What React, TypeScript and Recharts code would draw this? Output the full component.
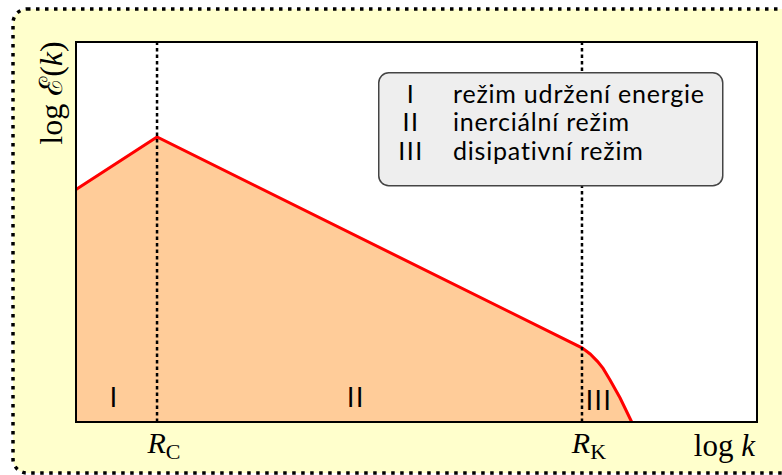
import React from 'react';
import {
  ComposedChart,
  Area,
  XAxis,
  YAxis,
  ReferenceLine,
  ReferenceArea,
  ReferenceDot,
  Legend,
  Label,
} from 'recharts';

// Energy spectrum sketch: log k on the horizontal axis, log E(k) on the vertical one.
const LOG_K = [0, 11.9, 74.3, 75.5, 76.6, 77.4, 78.4, 79.9, 81.6];
const LOG_E = [61.2, 75.0, 19.5, 17.9, 15.9, 14.1, 11.1, 6.3, 0];

// Characteristic scales marked on the k axis
const SCALE_TICKS = [11.9, 74.3];
const SCALE_TICK_LABELS = [
  ['R', 'C'],
  ['R', 'K'],
];

// Regimes of the cascade
const REGION_NUMERALS = ['I', 'II', 'III'];
const REGION_NAMES = ['režim udržení energie', 'inerciální režim', 'disipativní režim'];
const REGION_LABEL_K = [5.6, 41.1, 76.8];
const REGION_LABEL_E = [6.3, 6.3, 5.5];

const data = LOG_K.map((k, i) => ({ k, e: LOG_E[i] }));

const W = 782;
const H = 475;
const SERIF = '"Liberation Serif", "DejaVu Serif", serif';
const SANS = 'Lato, "Open Sans", sans-serif';

const ScaleTick = (props: any) => {
  const { x, y, index } = props;
  const [main, sub] = SCALE_TICK_LABELS[index] ?? ['', ''];
  return (
    <text x={x + 7} y={y + 23} textAnchor="middle" fontFamily={SERIF} fill="#000">
      <tspan fontSize={30} fontStyle="italic">
        {main}
      </tspan>
      <tspan fontSize={22} dy={6}>
        {sub}
      </tspan>
    </text>
  );
};

const RegimeLegend = () => (
  <svg width={346} height={115} style={{ display: 'block', overflow: 'visible' }}>
    <rect x={0.75} y={0.75} width={344} height={113} rx={10} ry={10} fill="#eeeeee" stroke="#444" strokeWidth={1.5} />
    {REGION_NUMERALS.map((n, i) => (
      <g key={n} fontFamily={SANS} fontSize={25} fill="#000">
        <text x={33} y={31 + i * 28.3} textAnchor="middle" letterSpacing={1.5}>
          {n}
        </text>
        <text x={75} y={31 + i * 28.3} letterSpacing={0.8}>
          {REGION_NAMES[i]}
        </text>
      </g>
    ))}
  </svg>
);

export default function App() {
  return (
    <div style={{ position: 'absolute', left: 0, top: 0, width: W, height: H, overflow: 'hidden' }}>
      <svg width={W} height={H} style={{ position: 'absolute', left: 0, top: 0 }}>
        <rect
          x={13}
          y={9}
          width={800}
          height={464}
          rx={14}
          ry={14}
          fill="#ffffcc"
          stroke="#000"
          strokeWidth={3.5}
          strokeDasharray="3.5 5.5"
        />
        <rect x={76} y={42} width={681} height={380} fill="#fff" />
      </svg>
      <div style={{ position: 'absolute', left: 0, top: 0 }}>
        <ComposedChart width={W} height={H} data={data} margin={{ top: 42, right: 25, bottom: 23, left: 36 }}>
          <XAxis
            type="number"
            dataKey="k"
            domain={[0, 100]}
            ticks={SCALE_TICKS}
            tick={<ScaleTick />}
            tickLine={false}
            axisLine={false}
            height={30}
            interval={0}
          >
            <Label
              content={(p: any) => {
                const vb = p.viewBox || {};
                return (
                  <text
                    x={vb.x + vb.width - 2}
                    y={vb.y + 34}
                    textAnchor="end"
                    fontFamily={SERIF}
                    fontSize={31}
                    fill="#000"
                  >
                    <tspan>log </tspan>
                    <tspan fontStyle="italic">k</tspan>
                  </text>
                );
              }}
            />
          </XAxis>
          <YAxis type="number" domain={[0, 100]} width={40} tick={false} tickLine={false} axisLine={false}>
            <Label
              content={(p: any) => {
                const vb = p.viewBox || {};
                return (
                  <text
                    transform={`translate(${vb.x + 26}, ${vb.y + 51}) rotate(-90)`}
                    textAnchor="middle"
                    fontFamily={SERIF}
                    fontSize={32}
                    fill="#000"
                  >
                    <tspan>log </tspan>
                    <tspan>ℰ</tspan>
                    <tspan>(</tspan>
                    <tspan fontStyle="italic">k</tspan>
                    <tspan>)</tspan>
                  </text>
                );
              }}
            />
          </YAxis>
          <Area
            type="linear"
            dataKey="e"
            stroke="#ff0000"
            strokeWidth={3}
            fill="#ffcc99"
            fillOpacity={1}
            baseValue={0}
            isAnimationActive={false}
            dot={false}
            activeDot={false}
          />
          {SCALE_TICKS.map((t) => (
            <ReferenceLine key={t} x={t} stroke="#000" strokeWidth={2.5} strokeDasharray="3.5 3" />
          ))}
          {REGION_NUMERALS.map((n, i) => (
            <ReferenceDot
              key={n}
              x={REGION_LABEL_K[i]}
              y={REGION_LABEL_E[i]}
              r={0}
              fill="none"
              stroke="none"
              label={(p: any) => {
                const vb = p.viewBox || {};
                const cx = vb.x + (vb.width || 0) / 2;
                const cy = vb.y + (vb.height || 0) / 2;
                return (
                  <text
                    x={cx}
                    y={cy + 9}
                    textAnchor="middle"
                    fontFamily={SANS}
                    fontSize={26}
                    letterSpacing={1.5}
                    fill="#000"
                  >
                    {n}
                  </text>
                );
              }}
            />
          ))}
          <ReferenceArea x1={0} x2={100} y1={0} y2={100} fill="none" stroke="#000" strokeWidth={2} />
          <Legend
            layout="vertical"
            align="center"
            verticalAlign="middle"
            content={() => <RegimeLegend />}
            wrapperStyle={{ position: 'absolute', left: 378, top: 72, width: 346, height: 115 }}
          />
        </ComposedChart>
      </div>
    </div>
  );
}
